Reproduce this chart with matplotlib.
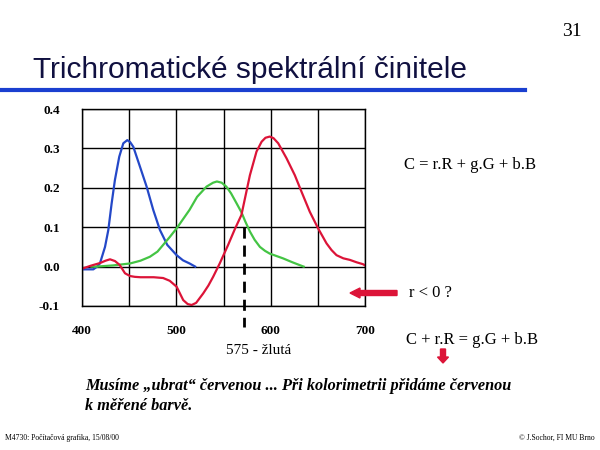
import matplotlib
matplotlib.use('Agg')
import matplotlib.pyplot as plt
from matplotlib.patches import FancyArrow
from matplotlib.transforms import IdentityTransform

# Values (wavelength in nm, coefficient)
blue_x = [398, 412, 416, 419, 424.4, 427.9, 431.4, 434.9, 439.5, 443.8, 448, 451, 454.4, 461.4, 468.5, 475.5,
          482.6, 490.4, 500.3, 507, 514, 520]
blue_y = [-0.007, -0.007, 0.0, 0.008, 0.05, 0.093, 0.16, 0.22, 0.279, 0.313, 0.321, 0.316, 0.304, 0.254, 0.203,
          0.144, 0.093, 0.055, 0.029, 0.016, 0.008, 0.0]

green_x = [410, 415.5, 433, 451, 462, 472, 480, 486, 493, 500.3, 507, 514, 522, 532, 539, 543, 548, 553, 558,
           564, 569, 573, 578, 583, 588.6, 594, 599, 606, 613, 623, 632.7, 635]
green_y = [0.0, 0.0, 0.003, 0.008, 0.015, 0.025, 0.038, 0.055, 0.075, 0.097, 0.12, 0.144, 0.177, 0.203, 0.213,
           0.216, 0.213, 0.203, 0.186, 0.16, 0.138, 0.115, 0.089, 0.068, 0.05, 0.04, 0.033, 0.027, 0.021, 0.011,
           0.002, 0.0]

red_x = [398, 409, 419, 425, 429.7, 435, 440, 445.6, 451, 456, 462, 476, 486, 493, 500.3, 507.3, 512, 516.2, 521,
         528.5, 534, 539, 546, 554.9, 562, 569, 578, 585, 590.4, 594.5, 599, 603, 608, 616.8, 625.6, 632.7, 641.5,
         650.3, 659.2, 664.5, 669.8, 677, 684, 691, 698, 700]
red_y = [-0.007, 0.002, 0.009, 0.015, 0.0185, 0.014, 0.004, -0.017, -0.024, -0.026, -0.027, -0.027, -0.029,
         -0.036, -0.051, -0.085, -0.095, -0.0975, -0.092, -0.068, -0.048, -0.026, 0.008, 0.055, 0.095, 0.131,
         0.232, 0.292, 0.317, 0.327, 0.33, 0.326, 0.313, 0.275, 0.232, 0.19, 0.139, 0.097, 0.059, 0.042, 0.029,
         0.021, 0.017, 0.011, 0.006, 0.003]

x_ticks = [400, 500, 600, 700]
y_ticks = [-0.1, 0.0, 0.1, 0.2, 0.3, 0.4]
yellow_nm = 572

serif = 'Liberation Serif'
red = '#dc1438'

fig = plt.figure(figsize=(6, 4.5), dpi=100)
ax = fig.add_axes([82 / 600, 1 - 306 / 450, 283 / 600, 197 / 450])

ax.plot(blue_x, blue_y, color='#2448c8', lw=1.6)
ax.plot(green_x, green_y, color='#44c444', lw=1.6)
ax.plot(red_x, red_y, color=red, lw=1.6)
ax.plot([yellow_nm, yellow_nm], [0.1, -0.153], color='black', lw=2, ls=(0, (4, 2.5)), clip_on=False)

ax.set_xlim(400, 700)
ax.set_ylim(-0.1, 0.4)
ax.set_xticks(range(400, 701, 50))
ax.set_xticklabels([str(v) if v in x_ticks else '' for v in range(400, 701, 50)])
ax.set_yticks(y_ticks)
ax.set_yticklabels([f'{v:.1f}' for v in y_ticks])
ax.tick_params(length=0, labelsize=9.5)
ax.tick_params(axis='x', pad=14)
ax.tick_params(axis='y', pad=16)
for lbl in ax.get_xticklabels() + ax.get_yticklabels():
    lbl.set_fontfamily(serif)
    lbl.set_fontweight('bold')
ax.grid(True, color='black', lw=1)
for s in ax.spines.values():
    s.set_linewidth(1)

# slide decorations
fig.text(582 / 600, 1 - 32 / 450, '31', family=serif, fontsize=14, ha='right', va='center')
fig.text(33 / 600, 1 - 70 / 450, 'Trichromatické spektrální činitele', family='Liberation Sans',
         fontsize=21.5, color='#101040', ha='left', va='center')
fig.add_artist(plt.Line2D([0, 525 / 600], [1 - 90 / 450, 1 - 90 / 450], color='#1a3fd0', lw=3))

fig.text(259 / 600, 1 - 350 / 450, '575 - žlutá', family=serif, fontsize=11, ha='center', va='center')
fig.text(470 / 600, 1 - 165 / 450, 'C = r.R + g.G + b.B', family=serif, fontsize=12, ha='center', va='center')
fig.text(409 / 600, 1 - 293 / 450, 'r < 0 ?', family=serif, fontsize=12, ha='left', va='center')
fig.text(472 / 600, 1 - 340 / 450, 'C + r.R = g.G + b.B', family=serif, fontsize=12, ha='center', va='center')

fig.add_artist(FancyArrow(397, 450 - 293, -47, 0, width=5, head_width=10, head_length=10,
                          length_includes_head=True, color=red, transform=IdentityTransform()))
fig.add_artist(FancyArrow(443, 450 - 349, 0, -14, width=5, head_width=11, head_length=6,
                          length_includes_head=True, color=red, transform=IdentityTransform()))

fig.text(85 / 600, 1 - 386 / 450, 'Musíme „ubrat“ červenou ... Při kolorimetrii přidáme červenou',
         family=serif, fontsize=11.7, style='italic', weight='bold', ha='left', va='center')
fig.text(85 / 600, 1 - 406 / 450, 'k měřené barvě.',
         family=serif, fontsize=11.7, style='italic', weight='bold', ha='left', va='center')

fig.text(5 / 600, 1 - 438 / 450, 'M4730: Počítačová grafika, 15/08/00', family=serif, fontsize=5.5,
         ha='left', va='center')
fig.text(595 / 600, 1 - 438 / 450, '© J.Sochor, FI MU Brno', family=serif, fontsize=5.5,
         ha='right', va='center')

fig.savefig('out.png', dpi=100)
